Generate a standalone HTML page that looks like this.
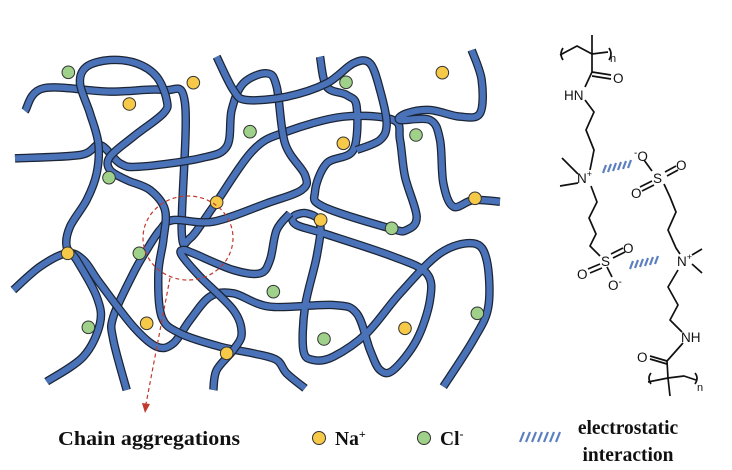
<!DOCTYPE html><html><head><style>body{margin:0;background:#fff}svg{display:block}</style></head><body>
<svg id="s" width="732" height="470" viewBox="0 0 732 470" xmlns="http://www.w3.org/2000/svg">
<g id="chains" fill="none" stroke-linecap="butt" stroke-linejoin="round"></g>
<g id="dots" stroke="#333" stroke-width="1"></g>
<ellipse cx="188" cy="238" rx="45" ry="42" fill="none" stroke="#c0392b" stroke-width="1.2" stroke-dasharray="4,3"/>
<line x1="170" y1="278" x2="146" y2="404" stroke="#c0392b" stroke-width="1.2" stroke-dasharray="4,3"/>
<polygon points="142,403 150,404 145,413" fill="#c0392b"/>
<g font-family="Liberation Serif,serif" font-weight="bold" font-size="19.5" fill="#111">
<text x="58" y="445" textLength="182" lengthAdjust="spacingAndGlyphs">Chain aggregations</text>
<text x="335" y="445">Na<tspan font-size="12" dy="-7">+</tspan></text>
<text x="440" y="445">Cl<tspan font-size="12" dy="-7">-</tspan></text>
<text x="628" y="434" text-anchor="middle">electrostatic</text>
<text x="628" y="461" text-anchor="middle">interaction</text>
</g>
<circle cx="319" cy="438" r="6.5" fill="#f7c948" stroke="#333"/>
<circle cx="424" cy="438" r="6.5" fill="#9fd18a" stroke="#333"/>
<g stroke="#5b7fc0" stroke-width="2.2"><line x1="520" y1="442" x2="524" y2="432"/><line x1="526" y1="442" x2="530" y2="432"/><line x1="532" y1="442" x2="536" y2="432"/><line x1="538" y1="442" x2="542" y2="432"/><line x1="544" y1="442" x2="548" y2="432"/><line x1="550" y1="442" x2="554" y2="432"/><line x1="556" y1="442" x2="560" y2="432"/></g>
<g stroke="#111" stroke-width="1.7" fill="none" stroke-linejoin="round">
<path d="M563,48 Q559,54 563,60"/><path d="M609,48 Q613,54 609,60"/>
<polyline points="560,55 577,46 592,54 608,52"/><line x1="592" y1="54" x2="592" y2="35"/>
<line x1="592" y1="54" x2="592" y2="72"/><line x1="592" y1="72" x2="611" y2="75"/><line x1="592" y1="76" x2="611" y2="79"/>
<line x1="592" y1="72" x2="585" y2="87"/>
<polyline points="585,100 594,112 586,130 594,150 590,170"/>
<line x1="578" y1="174" x2="562" y2="158"/><line x1="578" y1="183" x2="560" y2="186"/>
<polyline points="591,186 597,202 589,218 596,234 590,246 600,256"/>
<line x1="611" y1="254" x2="623" y2="248"/><line x1="613" y1="258" x2="625" y2="252"/>
<line x1="600" y1="264" x2="588" y2="269"/><line x1="602" y1="268" x2="590" y2="273"/>
<line x1="607" y1="267" x2="612" y2="277"/>
<line x1="644" y1="160" x2="652" y2="171"/>
<line x1="665" y1="172" x2="676" y2="166"/><line x1="667" y1="176" x2="678" y2="170"/>
<line x1="652" y1="181" x2="640" y2="187"/><line x1="654" y1="185" x2="642" y2="191"/>
<polyline points="664,184 670,197 676,212 668,230 676,248 680,254"/>
<line x1="692" y1="255" x2="702" y2="249"/><line x1="692" y1="264" x2="702" y2="273"/>
<polyline points="678,270 668,287 678,305 670,320 682,332"/>
<polyline points="683,343 675,352 667,361"/>
<line x1="667" y1="361" x2="650" y2="356"/><line x1="667" y1="364" x2="650" y2="359"/>
<line x1="667" y1="361" x2="668" y2="378"/><line x1="668" y1="378" x2="670" y2="396"/>
<polyline points="648,382 668,378 684,376 696,380"/>
<path d="M651,373 Q647,378 651,384"/><path d="M695,373 Q699,378 695,384"/>
</g>
<g font-family="Liberation Sans,sans-serif" font-size="13.5" fill="#111">
<text x="610" y="62" font-size="11">n</text>
<text x="613" y="83">O</text>
<text x="564" y="100">HN</text>
<text x="577" y="183">N<tspan font-size="9" dy="-6">+</tspan></text>
<text x="601" y="266">S</text>
<text x="623" y="253">O</text>
<text x="577" y="279">O</text>
<text x="608" y="290">O<tspan font-size="10" dy="-5">-</tspan></text>
<text x="634" y="161"><tspan font-size="10" dy="-5">-</tspan><tspan dy="5">O</tspan></text>
<text x="653" y="183">S</text>
<text x="676" y="170">O</text>
<text x="631" y="198">O</text>
<text x="677" y="266">N<tspan font-size="9" dy="-6">+</tspan></text>
<text x="681" y="342">NH</text>
<text x="637" y="362">O</text>
<text x="697" y="391" font-size="11">n</text>
</g>
<g stroke="#5b7fc0" stroke-width="2.2"><line x1="603" y1="173" x2="606" y2="165"/><line x1="608" y1="172" x2="611" y2="164"/><line x1="613" y1="171" x2="616" y2="163"/><line x1="618" y1="170" x2="621" y2="162"/><line x1="623" y1="169" x2="626" y2="161"/><line x1="628" y1="168" x2="631" y2="160"/>
<line x1="630" y1="269" x2="633" y2="261"/><line x1="635" y1="268" x2="638" y2="260"/><line x1="640" y1="267" x2="643" y2="259"/><line x1="645" y1="266" x2="648" y2="258"/><line x1="650" y1="265" x2="653" y2="257"/><line x1="655" y1="264" x2="658" y2="256"/></g>
</svg>
<script>
var chains=[
[75,213,130,145,330,155,490,150,555,190,545,570,570,595,640,500,760,330,860,275,1030,230,1180,240,1200,300,1215,410,1250,530,1220,570,1170,565,970,500,945,455,980,370,1060,330,1070,200,1040,165,980,140,960,50],
[45,355,240,345,300,315,360,370,420,380,600,355,680,320,695,210,730,130,800,100,830,140,855,310,915,405,905,450,800,490,640,545,520,540,480,570,440,630,400,700,340,830,340,900,380,1050],
[40,750,120,680,200,640,250,660,300,730,400,860,470,920,520,910,570,840,630,770,700,760,810,800,1000,795,1070,820,1110,930,1140,990,1180,990,1250,900,1290,780,1280,700,1180,650,970,580,890,555,880,530,920,520,960,550,950,650,915,800,910,930,940,960,1000,950,1100,880,1200,760,1320,640,1420,610,1460,660,1465,800,1420,900,1330,1040],
[140,1025,250,950,300,850,290,770,230,660,200,620,210,560,260,480,290,400,295,310,270,220,240,130,260,80,330,60,410,70,470,110,500,180,490,220,400,290,330,350,330,390,380,420,450,450,495,510,490,600,475,700,485,830,540,880,660,920,760,940,830,960,860,1000,915,1045],
[650,50,700,150,740,180,860,170,980,130,1060,70,1110,70,1140,150,1160,250,1140,300,1070,330],
[1415,30,1445,120,1440,220,1380,230,1290,210,1220,220,1200,240,1290,240,1320,300,1330,430,1360,500,1420,480,1500,485],
[870,520,830,570,810,660,780,700,700,690,580,640,550,630,545,645,600,710,700,810,725,880,700,930,650,990,640,1050]];
function sm(p){var q=[];for(var i=0;i<p.length;i+=2)q.push([p[i]/3,p[i+1]/3+40]);var d="M"+q[0][0]+","+q[0][1];
for(var i=0;i<q.length-1;i++){var a=q[i-1]||q[i],b=q[i],c=q[i+1],e=q[i+2]||c;
d+=" C"+(b[0]+(c[0]-a[0])/6)+","+(b[1]+(c[1]-a[1])/6)+" "+(c[0]-(e[0]-b[0])/6)+","+(c[1]-(e[1]-b[1])/6)+" "+c[0]+","+c[1];}return d;}
var g=document.getElementById("chains"),h="";
chains.forEach(function(c){var d=sm(c);h+='<path d="'+d+'" stroke="#1c2535" stroke-width="8.5"/><path d="'+d+'" stroke="#4a72b8" stroke-width="6"/>';});
g.innerHTML=h;
var gr=[[205,97],[750,275],[1038,127],[1248,285],[327,413],[418,640],[1175,565],[820,755],[265,862],[972,897],[1432,820]];
var ye=[[580,128],[388,192],[1327,98],[1030,310],[650,487],[1425,475],[962,540],[203,640],[440,850],[1215,865],[680,940]];
var s="";gr.forEach(function(p){s+='<circle cx="'+p[0]/3+'" cy="'+(p[1]/3+40)+'" r="6.3" fill="#9fd18a"/>';});
ye.forEach(function(p){s+='<circle cx="'+p[0]/3+'" cy="'+(p[1]/3+40)+'" r="6.3" fill="#f7c948"/>';});
document.getElementById("dots").innerHTML=s;
</script>
</body></html>
